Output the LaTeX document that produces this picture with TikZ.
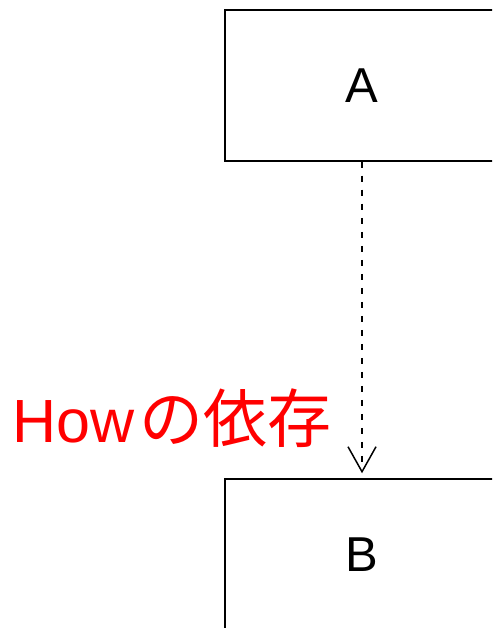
\documentclass[tikz,border=0pt]{standalone}
\usepackage{fontspec}
\setmainfont{Liberation Sans}
\newfontfamily\jpfont{Noto Sans CJK JP}
\usetikzlibrary{%
  arrows.meta,%
  positioning% wg. " of "
}

\begin{document}
\begin{tikzpicture}
[x=1pt, y=-1pt, draw=black, line width=1.5pt,
module/.style={rectangle, draw, inner sep=0pt, minimum width=274pt, minimum height=151pt, font=\fontsize{49}{49}\selectfont},
depend/.style={dash pattern=on 6pt off 8pt, -{Straight Barb[length=25pt, width=28pt, line width=1.5pt]}, shorten >=5pt},
howlabel/.style={text=red, inner sep=0pt, anchor=base west, font=\fontsize{61}{61}\selectfont}]

\useasboundingbox (0,0) rectangle (492,628);
\clip (0,0) rectangle (492,628);

\node[module] (a) at (362,85.5) {A};
\node[module] (b) at (362,554.5) {B};

\draw[depend] (a) -- (b);

\node[howlabel] (how) at (12,442) {How\hspace{5pt}{\jpfont\fontsize{64}{64}\selectfont の依存}};

\end{tikzpicture}
\end{document}
